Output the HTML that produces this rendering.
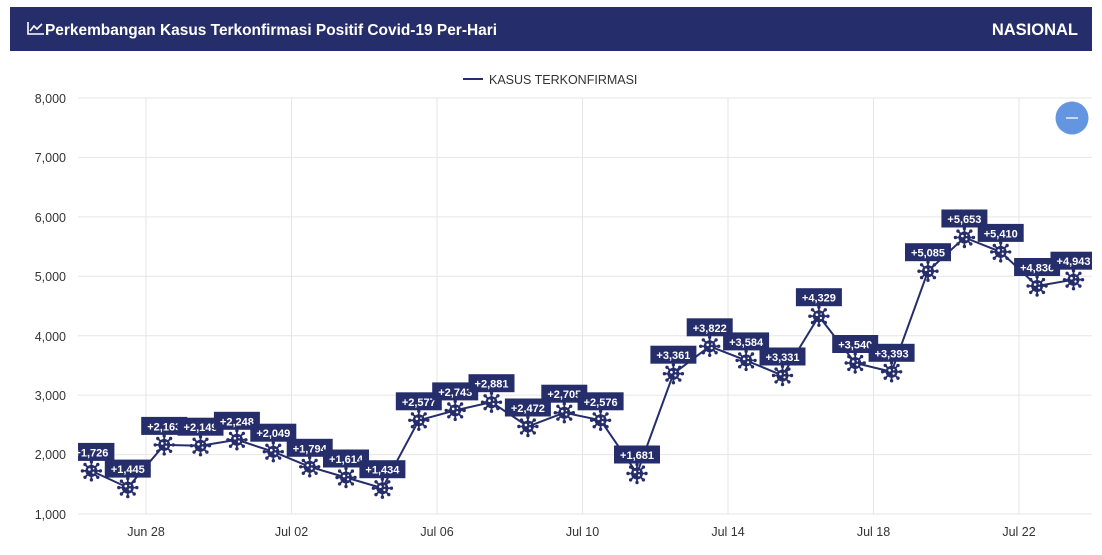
<!DOCTYPE html>
<html><head><meta charset="utf-8"><style>
html,body{margin:0;padding:0;background:#fff;width:1102px;height:555px;overflow:hidden;font-family:"Liberation Sans",sans-serif}
</style></head><body>
<svg width="1102" height="555" viewBox="0 0 1102 555" xmlns="http://www.w3.org/2000/svg" font-family="Liberation Sans, sans-serif">
<defs>
<clipPath id="pc"><rect x="78" y="60" width="1014" height="470"/></clipPath>
<g id="v">
 <g stroke="#262d6b" stroke-width="1.8">
  <line x1="0" y1="-9" x2="0" y2="9"/><line x1="-9" y1="0" x2="9" y2="0"/>
  <line x1="-6.4" y1="-6.4" x2="6.4" y2="6.4"/><line x1="-6.4" y1="6.4" x2="6.4" y2="-6.4"/>
 </g>
 <g fill="#262d6b">
  <circle r="6"/><circle cx="0" cy="-9" r="1.7"/><circle cx="0" cy="9" r="1.7"/><circle cx="-9" cy="0" r="1.7"/><circle cx="9" cy="0" r="1.7"/>
  <circle cx="-6.4" cy="-6.4" r="1.7"/><circle cx="6.4" cy="6.4" r="1.7"/><circle cx="-6.4" cy="6.4" r="1.7"/><circle cx="6.4" cy="-6.4" r="1.7"/>
 </g>
 <g fill="#fff"><circle cx="-2" cy="-1.5" r="1.3"/><circle cx="2" cy="1.8" r="1.1"/><circle cx="2.2" cy="-2.2" r="0.8"/></g>
</g>
</defs>
<rect x="10" y="7" width="1082" height="44" fill="#262d6b"/>
<g stroke="#fff" stroke-width="1.6" fill="none"><polyline points="28,22 28,34 44,34"/><polyline points="30,31 34,26 37,29 42,24"/></g>
<text x="45" y="35" fill="#fff" font-size="16" font-weight="bold" textLength="452" lengthAdjust="spacingAndGlyphs">Perkembangan Kasus Terkonfirmasi Positif Covid-19 Per-Hari</text>
<text x="1078" y="35" fill="#fff" font-size="16.5" font-weight="bold" text-anchor="end">NASIONAL</text>
<line x1="463" y1="79" x2="483" y2="79" stroke="#262d6b" stroke-width="2"/>
<text x="489" y="84" font-size="12.5" fill="#333">KASUS TERKONFIRMASI</text>
<g stroke="#e6e6e6" stroke-width="1">
<line x1="78" y1="98" x2="1092" y2="98"/><line x1="78" y1="157.4" x2="1092" y2="157.4"/><line x1="78" y1="216.9" x2="1092" y2="216.9"/><line x1="78" y1="276.3" x2="1092" y2="276.3"/><line x1="78" y1="335.7" x2="1092" y2="335.7"/><line x1="78" y1="395.1" x2="1092" y2="395.1"/><line x1="78" y1="454.6" x2="1092" y2="454.6"/><line x1="78" y1="514" x2="1092" y2="514"/>
<line x1="146" y1="98" x2="146" y2="514"/><line x1="291.5" y1="98" x2="291.5" y2="514"/><line x1="437" y1="98" x2="437" y2="514"/><line x1="582.5" y1="98" x2="582.5" y2="514"/><line x1="728" y1="98" x2="728" y2="514"/><line x1="873.5" y1="98" x2="873.5" y2="514"/><line x1="1019" y1="98" x2="1019" y2="514"/>
</g>
<g font-size="12.5" fill="#333" text-anchor="end">
<text x="66" y="103">8,000</text><text x="66" y="162">7,000</text><text x="66" y="222">6,000</text><text x="66" y="281">5,000</text><text x="66" y="341">4,000</text><text x="66" y="400">3,000</text><text x="66" y="459">2,000</text><text x="66" y="519">1,000</text>
</g>
<g font-size="12.5" fill="#333" text-anchor="middle">
<text x="146" y="536">Jun 28</text><text x="291.5" y="536">Jul 02</text><text x="437" y="536">Jul 06</text><text x="582.5" y="536">Jul 10</text><text x="728" y="536">Jul 14</text><text x="873.5" y="536">Jul 18</text><text x="1019" y="536">Jul 22</text>
</g>
<circle cx="1072" cy="118" r="16.5" fill="#6495e0"/>
<line x1="1066" y1="118" x2="1078" y2="118" stroke="#fff" stroke-width="1.3"/>
<g clip-path="url(#pc)">
<polyline fill="none" stroke="#262d6b" stroke-width="2" points="91.4,470.9 127.8,487.6 164.2,444.9 200.5,445.7 236.9,439.8 273.3,451.7 309.7,466.8 346,477.5 382.4,488.2 418.8,420.3 455.2,410.4 491.5,402.2 527.9,426.5 564.3,412.7 600.6,420.3 637,473.5 673.4,373.7 709.7,346.3 746.1,360.4 782.5,375.5 818.9,316.2 855.2,363 891.6,371.8 928,271.2 964.4,237.5 1000.7,251.9 1037.1,286 1073.5,279.7"/>
<g font-size="11" font-weight="bold" fill="#fff" text-anchor="middle">
<g transform="translate(91.4,470.9)"><rect x="-23" y="-28" width="46" height="18" fill="#262d6b"/><text y="-14.5">+1,726</text><use href="#v"/></g>
<g transform="translate(127.8,487.6)"><rect x="-23" y="-28" width="46" height="18" fill="#262d6b"/><text y="-14.5">+1,445</text><use href="#v"/></g>
<g transform="translate(164.2,444.9)"><rect x="-23" y="-28" width="46" height="18" fill="#262d6b"/><text y="-14.5">+2,163</text><use href="#v"/></g>
<g transform="translate(200.5,445.7)"><rect x="-23" y="-28" width="46" height="18" fill="#262d6b"/><text y="-14.5">+2,149</text><use href="#v"/></g>
<g transform="translate(236.9,439.8)"><rect x="-23" y="-28" width="46" height="18" fill="#262d6b"/><text y="-14.5">+2,248</text><use href="#v"/></g>
<g transform="translate(273.3,451.7)"><rect x="-23" y="-28" width="46" height="18" fill="#262d6b"/><text y="-14.5">+2,049</text><use href="#v"/></g>
<g transform="translate(309.7,466.8)"><rect x="-23" y="-28" width="46" height="18" fill="#262d6b"/><text y="-14.5">+1,794</text><use href="#v"/></g>
<g transform="translate(346,477.5)"><rect x="-23" y="-28" width="46" height="18" fill="#262d6b"/><text y="-14.5">+1,614</text><use href="#v"/></g>
<g transform="translate(382.4,488.2)"><rect x="-23" y="-28" width="46" height="18" fill="#262d6b"/><text y="-14.5">+1,434</text><use href="#v"/></g>
<g transform="translate(418.8,420.3)"><rect x="-23" y="-28" width="46" height="18" fill="#262d6b"/><text y="-14.5">+2,577</text><use href="#v"/></g>
<g transform="translate(455.2,410.4)"><rect x="-23" y="-28" width="46" height="18" fill="#262d6b"/><text y="-14.5">+2,743</text><use href="#v"/></g>
<g transform="translate(491.5,402.2)"><rect x="-23" y="-28" width="46" height="18" fill="#262d6b"/><text y="-14.5">+2,881</text><use href="#v"/></g>
<g transform="translate(527.9,426.5)"><rect x="-23" y="-28" width="46" height="18" fill="#262d6b"/><text y="-14.5">+2,472</text><use href="#v"/></g>
<g transform="translate(564.3,412.7)"><rect x="-23" y="-28" width="46" height="18" fill="#262d6b"/><text y="-14.5">+2,705</text><use href="#v"/></g>
<g transform="translate(600.6,420.3)"><rect x="-23" y="-28" width="46" height="18" fill="#262d6b"/><text y="-14.5">+2,576</text><use href="#v"/></g>
<g transform="translate(637,473.5)"><rect x="-23" y="-28" width="46" height="18" fill="#262d6b"/><text y="-14.5">+1,681</text><use href="#v"/></g>
<g transform="translate(673.4,373.7)"><rect x="-23" y="-28" width="46" height="18" fill="#262d6b"/><text y="-14.5">+3,361</text><use href="#v"/></g>
<g transform="translate(709.7,346.3)"><rect x="-23" y="-28" width="46" height="18" fill="#262d6b"/><text y="-14.5">+3,822</text><use href="#v"/></g>
<g transform="translate(746.1,360.4)"><rect x="-23" y="-28" width="46" height="18" fill="#262d6b"/><text y="-14.5">+3,584</text><use href="#v"/></g>
<g transform="translate(782.5,375.5)"><rect x="-23" y="-28" width="46" height="18" fill="#262d6b"/><text y="-14.5">+3,331</text><use href="#v"/></g>
<g transform="translate(818.9,316.2)"><rect x="-23" y="-28" width="46" height="18" fill="#262d6b"/><text y="-14.5">+4,329</text><use href="#v"/></g>
<g transform="translate(855.2,363)"><rect x="-23" y="-28" width="46" height="18" fill="#262d6b"/><text y="-14.5">+3,540</text><use href="#v"/></g>
<g transform="translate(891.6,371.8)"><rect x="-23" y="-28" width="46" height="18" fill="#262d6b"/><text y="-14.5">+3,393</text><use href="#v"/></g>
<g transform="translate(928,271.2)"><rect x="-23" y="-28" width="46" height="18" fill="#262d6b"/><text y="-14.5">+5,085</text><use href="#v"/></g>
<g transform="translate(964.4,237.5)"><rect x="-23" y="-28" width="46" height="18" fill="#262d6b"/><text y="-14.5">+5,653</text><use href="#v"/></g>
<g transform="translate(1000.7,251.9)"><rect x="-23" y="-28" width="46" height="18" fill="#262d6b"/><text y="-14.5">+5,410</text><use href="#v"/></g>
<g transform="translate(1037.1,286)"><rect x="-23" y="-28" width="46" height="18" fill="#262d6b"/><text y="-14.5">+4,836</text><use href="#v"/></g>
<g transform="translate(1073.5,279.7)"><rect x="-23" y="-28" width="46" height="18" fill="#262d6b"/><text y="-14.5">+4,943</text><use href="#v"/></g>
</g>
</g>
</svg>
</body></html>
